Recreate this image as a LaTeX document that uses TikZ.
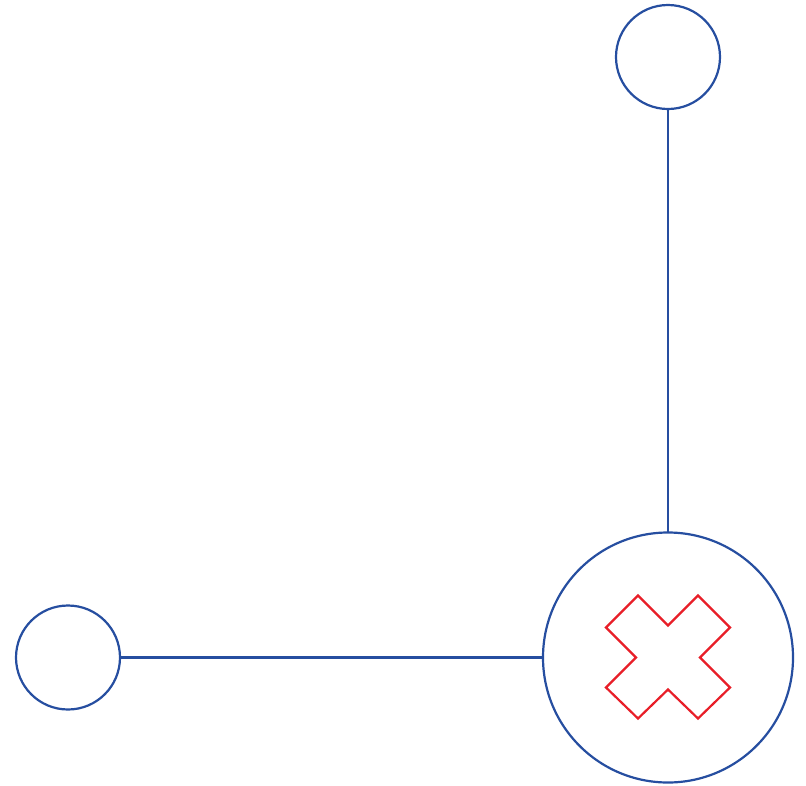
\documentclass[tikz,border=0pt]{standalone}
\begin{document}
\begin{tikzpicture}[x=1pt,y=-1pt,
  every node/.style={inner sep=0pt,outer sep=0pt},
  ring/.style={circle,draw=ringblue,line width=2.2pt,fill=white},
  link/.style={draw=ringblue,line width=2.2pt},
  cross/.style={draw=crossred,line width=2.2pt,line join=miter}]
\definecolor{ringblue}{RGB}{38,78,160}
\definecolor{crossred}{RGB}{232,30,40}
\useasboundingbox (0,0) rectangle (806,785);
% hub and the two satellites
\node[ring,minimum size=250pt] (hub) at (668,657.5) {};
\node[ring,minimum size=104pt] (top) at (668,57) {};
\node[ring,minimum size=104pt] (left) at (68,657.5) {};
% connectors
\draw[link] (top.south) -- (hub.north);
\draw[link] (left.east) -- (hub.west);
% cross mark inside the hub
\begin{scope}[shift={(hub.center)}]
\draw[cross] (-30,-62) -- (0,-32) -- (30,-62) -- (62,-30) -- (32,0) -- (62,30)
  -- (30,61) -- (0,32) -- (-30,61) -- (-62,30) -- (-32,0) -- (-62,-30) -- cycle;
\end{scope}
\end{tikzpicture}
\end{document}
